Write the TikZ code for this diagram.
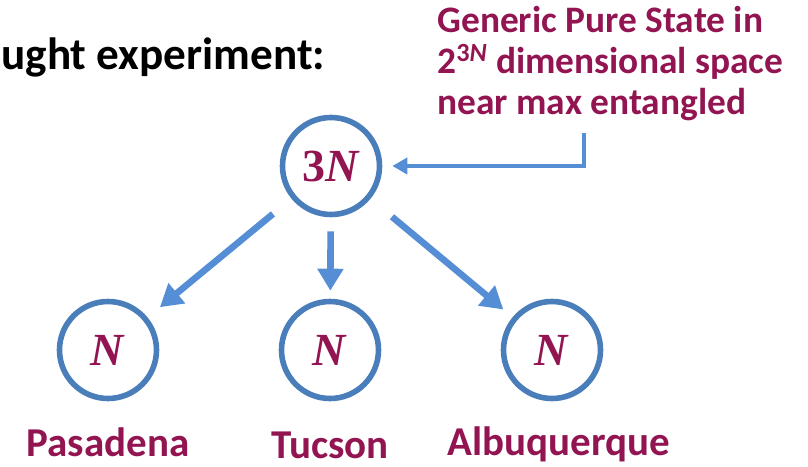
\documentclass[tikz,border=0pt]{standalone}
\usepackage{fontspec}
\setmainfont{Carlito}
\newfontfamily\statefont{Liberation Serif}
\usepackage{tikz}
\usetikzlibrary{arrows.meta,positioning,shadows}
\definecolor{ringblue}{HTML}{4A7EBB}
\definecolor{arrowblue}{HTML}{558ED5}
\definecolor{plum}{HTML}{921552}
\tikzset{
  statering/.style={
    circle, draw=ringblue, fill=white, line width=2.8pt,
    minimum size=48.5pt, inner sep=0pt,
    font=\statefont\bfseries\fontsize{23}{23}\selectfont, text=plum,
    drop shadow={opacity=0.15, shadow xshift=0.8pt, shadow yshift=-1.2pt}
  },
  splitarrow/.style={
    -{Triangle[length=11pt, width=12.5pt]}, line width=3.3pt, color=arrowblue
  },
  notearrow/.style={
    -{Triangle[length=7.5pt, width=8pt]}, line width=2.2pt, color=arrowblue
  },
  citylabel/.style={
    anchor=base, inner sep=0pt, text=plum,
    font=\bfseries\fontsize{20.5}{20.5}\selectfont
  },
  notetext/.style={
    anchor=north west, inner sep=0pt, align=left, text=plum,
    font=\bfseries\fontsize{18.7}{20.5}\selectfont
  },
}

\begin{document}
\begin{tikzpicture}[x=0.5pt, y=-0.5pt]
  \useasboundingbox (0,0) rectangle (808,466);

  % heading at the top left
  \node[anchor=base west, inner sep=0pt, font=\bfseries\fontsize{22.6}{22.6}\selectfont]
    (heading) at (1,69) {ught experiment:};

  % the 3N system and its three pieces
  \node[statering] (whole) at (331,166) {3\textit{N}};
  \node[statering] (pas) at (108,350) {\textit{N}};
  \node[statering] (tuc) at (330,350) {\textit{N}};
  \node[statering] (abq) at (552,350) {\textit{N}};

  \node[citylabel] (pasname) at ([yshift=-53pt]pas.center) {Pasadena};
  \node[citylabel] (tucname) at ([yshift=-54pt]tuc.center) {Tucson};
  \node[citylabel] (abqname) at ([xshift=3.5pt, yshift=-52.5pt]abq.center) {Albuquerque};

  \draw[splitarrow, shorten <=12pt, shorten >=8pt] (whole) -- (pas);
  \draw[splitarrow, shorten <=7pt, shorten >=4pt] (whole) -- (tuc);
  \draw[splitarrow, shorten <=14pt, shorten >=6pt] (whole) -- (abq);

  % annotation with its elbow arrow
  \node[notetext] (note) at (437,6)
    {Generic Pure State in\\
     2\textsuperscript{3\textit{N}} dimensional space\\
     near max entangled};
  \coordinate (notefoot) at (584,133);
  \draw[notearrow, shorten >=5pt] (notefoot) |- (whole);
\end{tikzpicture}
\end{document}
